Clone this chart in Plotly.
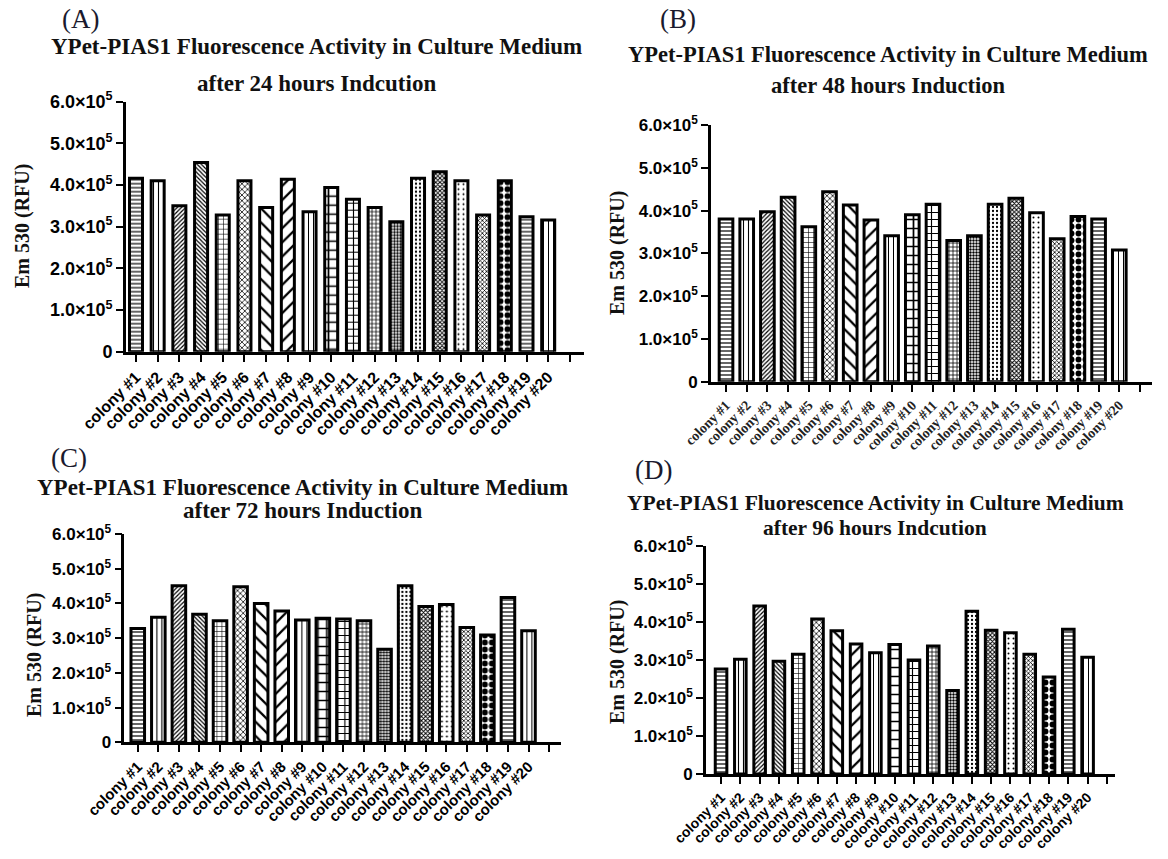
import plotly.graph_objects as go

# the page has an 8px body margin, so the figure is drawn 8px in from the corner
OFF = 8
W, H = 1168 - OFF, 859 - OFF

# ---------------- data ----------------
colonies = [f"colony #{i}" for i in range(1, 21)]
tick_labels = colonies + [""]

rfu_24h = [416000, 410000, 350000, 454000, 328000, 410000, 346000, 414000, 336000, 394000,
           366000, 346000, 312000, 416000, 432000, 410000, 328000, 410000, 324000, 316000]
rfu_48h = [380000, 380000, 397000, 431000, 362000, 444000, 413000, 378000, 341000, 390000,
           415000, 330000, 341000, 415000, 429000, 395000, 334000, 386000, 380000, 308000]
rfu_72h = [328000, 360000, 451000, 369000, 350000, 448000, 400000, 378000, 352000, 357000,
           355000, 350000, 268000, 451000, 391000, 397000, 331000, 309000, 417000, 321000]
rfu_96h = [276000, 302000, 442000, 297000, 315000, 408000, 377000, 342000, 319000, 341000,
           300000, 337000, 220000, 428000, 378000, 372000, 315000, 255000, 381000, 307000]

y_tickvals = [0, 100000, 200000, 300000, 400000, 500000, 600000]
y_ticktext = ["0", "1.0×10<sup>5</sup>", "2.0×10<sup>5</sup>", "3.0×10<sup>5</sup>",
              "4.0×10<sup>5</sup>", "5.0×10<sup>5</sup>", "6.0×10<sup>5</sup>"]

title_line1 = "YPet-PIAS1 Fluorescence Activity in Culture Medium"
title_line2 = ["after 24 hours Indcution", "after 48 hours Induction",
               "after 72 hours Induction", "after 96 hours Indcution"]
panel_letters = ["(A)", "(B)", "(C)", "(D)"]
y_title = "Em 530 (RFU)"

# bar fill patterns (one per colony)
pat_shape = ["-", "|", "/", "\\", "+", "x", "\\", "/", "|", "+",
             "+", "+", ".", ".", "x", ".", "x", ".", "-", "|"]
pat_size = [4, 5, 3, 3, 5, 4, 10, 10, 5, 9,
            7, 4, 3, 4, 3, 5, 3, 7, 4, 5]
pat_solid = [0.3, 0.22, 0.4, 0.4, 0.22, 0.35, 0.22, 0.22, 0.2, 0.35,
             0.3, 0.35, 0.5, 0.25, 0.55, 0.12, 0.45, 0.55, 0.3, 0.2]

# ---------------- layout geometry (page pixels) ----------------
sans_bold = dict(family="Liberation Sans", color="black", weight="bold")
panels = [
    dict(x0=126, x1=584, yt=101.7, yb=351.7, xr=[0.54, 21.65], bw=0.6,
         xfont=dict(sans_bold, size=16), ys=18),
    dict(x0=711, x1=1152, yt=125, yb=381.7, xr=[0.275, 21.58], bw=0.66,
         xfont=dict(family="Liberation Serif", size=14, color="#222", weight="bold"), ys=17),
    dict(x0=124.4, x1=561, yt=534, yb=742.3, xr=[0.35, 21.58], bw=0.66,
         xfont=dict(sans_bold, size=15), ys=17),
    dict(x0=706, x1=1115, yt=546, yb=774, xr=[0.22, 21.42], bw=0.6,
         xfont=dict(sans_bold, size=14), ys=17),
]
series = [rfu_24h, rfu_48h, rfu_72h, rfu_96h]

letter_pos = [(80, 19), (678, 19), (69, 458), (654, 470)]
title_pos = [(316, 47, 84), (888, 55, 85), (302, 487, 510), (875, 503, 528)]
title_size = [23, 22.5, 23, 21.5]
ytitle_pos = [(22, 226), (617, 253), (34, 655), (617, 662)]


def px(x):
    return (x - OFF) / W


def py(y):
    return 1 - (y - OFF) / H


fig = go.Figure()
annotations = []
layout_axes = {}

for i, (p, vals) in enumerate(zip(panels, series)):
    n = "" if i == 0 else str(i + 1)
    fig.add_trace(go.Bar(
        x=list(range(1, len(colonies) + 1)), y=vals,
        width=p["bw"],
        xaxis="x" + n, yaxis="y" + n,
        marker=dict(
            color="white",
            line=dict(color="black", width=3),
            pattern=dict(shape=pat_shape, size=pat_size, solidity=pat_solid,
                         fgcolor="black", bgcolor="white", fgopacity=1),
        ),
        showlegend=False,
        hovertext=colonies,
    ))
    layout_axes["xaxis" + n] = dict(
        domain=[px(p["x0"]), px(p["x1"])], anchor="y" + n,
        range=p["xr"], tickmode="array",
        tickvals=list(range(1, len(tick_labels) + 1)), ticktext=tick_labels,
        tickangle=-45, tickfont=p["xfont"],
        showline=True, linecolor="black", linewidth=2.6,
        ticks="outside", ticklen=7, tickwidth=2, tickcolor="black",
        showgrid=False, zeroline=False, automargin=False,
    )
    layout_axes["yaxis" + n] = dict(
        domain=[py(p["yb"]), py(p["yt"])], anchor="x" + n,
        range=[0, 600000], tickmode="array",
        tickvals=y_tickvals, ticktext=y_ticktext,
        tickfont=dict(sans_bold, size=p["ys"]),
        showline=True, linecolor="black", linewidth=2.6,
        ticks="outside", ticklen=7, tickwidth=2, tickcolor="black",
        showgrid=False, zeroline=False, automargin=False,
    )

    lx, ly = letter_pos[i]
    annotations.append(dict(text=panel_letters[i], x=px(lx), y=py(ly), xref="paper", yref="paper",
                            showarrow=False, xanchor="center", yanchor="middle",
                            font=dict(family="Liberation Serif", size=27, color="#1a1a2e")))
    tx, ty1, ty2 = title_pos[i]
    annotations.append(dict(text=title_line1, x=px(tx), y=py(ty1), xref="paper", yref="paper",
                            showarrow=False, xanchor="center", yanchor="middle",
                            font=dict(family="Liberation Serif", size=title_size[i], color="#111", weight="bold")))
    annotations.append(dict(text=title_line2[i], x=px(tx), y=py(ty2), xref="paper", yref="paper",
                            showarrow=False, xanchor="center", yanchor="middle",
                            font=dict(family="Liberation Serif", size=title_size[i], color="#111", weight="bold")))
    yx, yy = ytitle_pos[i]
    annotations.append(dict(text=y_title, x=px(yx), y=py(yy), xref="paper", yref="paper",
                            showarrow=False, xanchor="center", yanchor="middle", textangle=-90,
                            font=dict(family="Liberation Serif", size=20, color="#111", weight="bold")))

fig.update_layout(
    width=W, height=H,
    margin=dict(l=0, r=0, t=0, b=0),
    paper_bgcolor="white", plot_bgcolor="white",
    template="none",
    annotations=annotations,
    **layout_axes,
)

fig.write_html("out.html")
